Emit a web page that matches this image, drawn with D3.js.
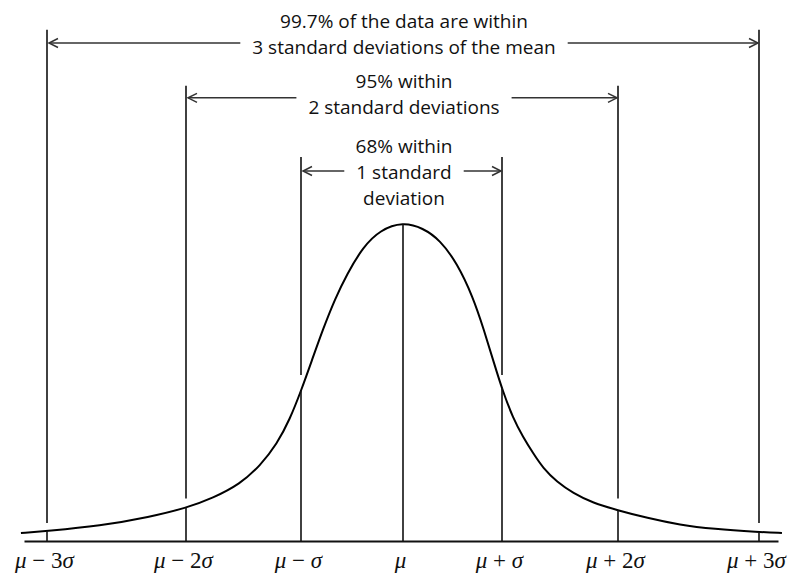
<!DOCTYPE html>
<html>
<head>
<meta charset="utf-8">
<script src="https://cdn.jsdelivr.net/npm/d3@7"></script>
<style>
  html, body { margin: 0; padding: 0; background: #fff; }
  svg { display: block; }
</style>
</head>
<body>
<svg id="chart" width="800" height="580"></svg>
<script>
// ---------- data ----------
// curve: x in sigma units, y = density
const curveX = [-3.187, -3.0, -2.619, -2.259, -2.0, -1.765, -1.530, -1.357, -1.209, -1.096, -1.0, -0.892, -0.784, -0.667, -0.549, -0.392, -0.225, 0,
                0.202, 0.374, 0.545, 0.707, 0.818, 0.919, 1.009, 1.095, 1.181, 1.267, 1.353, 1.474, 1.612, 1.784, 1.991, 2.206, 2.440, 2.674, 3.0, 3.163];
const curveY = [0.010, 0.0125, 0.01875, 0.030, 0.04125, 0.05375, 0.07125, 0.09375, 0.12125, 0.1525, 0.1875, 0.22625, 0.265, 0.3025, 0.33375, 0.3675, 0.38875, 0.39875,
                0.39125, 0.37625, 0.3475, 0.305, 0.26375, 0.2225, 0.18625, 0.1538, 0.13, 0.11, 0.09125, 0.07375, 0.06, 0.0475, 0.03875, 0.02875, 0.020, 0.015, 0.01125, 0.010];

const sigmaTicks = [-3, -2, -1, 0, 1, 2, 3];
const tickLabels = ["μ − 3σ", "μ − 2σ", "μ − σ", "μ", "μ + σ", "μ + 2σ", "μ + 3σ"];

// brackets (±k sigma)
const bracketSigma = [3, 2, 1];
const bracketLevel = [0.6225, 0.554, 0.4625];     // arrow height (density units)
const lineTopLevel = [0.639, 0.569, 0.48];        // top of the vertical guide lines
const lineGapLevel = [0.0225, 0.053, 0.2075];     // where the upper guide segment stops above the curve
const textTopLevel = [0.64125, 0.56625, 0.485];   // first text baseline
const bracketText = [
  ["99.7% of the data are within", "3 standard deviations of the mean"],
  ["95% within", "2 standard deviations"],
  ["68% within", "1 standard", "deviation"]
];
const arrowTextLine = [1, 1, 1]; // text line the arrow runs beside

// ---------- scales ----------
const x = d3.scaleLinear()
  .domain([-3.165, -3, -2, -1, 0, 1, 2, 3, 3.135])
  .range([24, 47, 186, 301, 403, 502, 618, 759, 778]);
const y = d3.scaleLinear().domain([0, 0.4]).range([541, 221]);

const svg = d3.select("#chart");
const textFont = "'Open Sans', Lato, sans-serif";
const lineHeight = 26;

const curve = curveX.map((v, i) => ({ x: v, y: curveY[i] }));

// ---------- axis ----------
const axis = d3.axisBottom(x).tickValues(sigmaTicks).tickSize(0).tickSizeOuter(0).tickFormat("");
const gAxis = svg.append("g").attr("transform", `translate(0,${y(0)})`).call(axis);
gAxis.select(".domain").attr("stroke", "#111").attr("stroke-width", 2);
gAxis.selectAll(".tick text").remove();
gAxis.selectAll(".tick").each(function (d, i) {
  const t = d3.select(this).append("text")
    .attr("x", -3)
    .attr("y", 27)
    .attr("text-anchor", "middle")
    .attr("fill", "#111")
    .style("font-family", "'Liberation Serif', 'DejaVu Serif', serif")
    .style("font-size", "23px");
  tickLabels[i].split(/([μσ])/).filter(s => s.length).forEach(part => {
    t.append("tspan")
      .style("font-style", /[μσ]/.test(part) ? "italic" : "normal")
      .text(part);
  });
});

// ---------- curve ----------
const linePath = d3.line().x(d => x(d.x)).y(d => y(d.y)).curve(d3.curveBasis);
const curvePath = svg.append("path")
  .datum(curve)
  .attr("fill", "none")
  .attr("stroke", "#000")
  .attr("stroke-width", 2)
  .attr("d", linePath);

// drawn curve height at a given x pixel (so the guide lines meet it exactly)
const pathNode = curvePath.node();
const totalLen = pathNode.getTotalLength();
function curvePixelY(px) {
  let lo = 0, hi = totalLen;
  for (let n = 0; n < 40; n++) {
    const mid = (lo + hi) / 2;
    if (pathNode.getPointAtLength(mid).x < px) lo = mid; else hi = mid;
  }
  return pathNode.getPointAtLength((lo + hi) / 2).y;
}

// ---------- vertical guide lines ----------
const gLines = svg.append("g").attr("stroke", "#111").attr("stroke-width", 1.6);
gLines.selectAll("line.lower").data(sigmaTicks).join("line")
  .attr("class", "lower")
  .attr("x1", d => x(d)).attr("x2", d => x(d))
  .attr("y1", d => curvePixelY(x(d))).attr("y2", y(0));
const upper = [];
bracketSigma.forEach((k, i) => {
  [-k, k].forEach(s => upper.push({ s, top: lineTopLevel[i], bottom: lineGapLevel[i] }));
});
gLines.selectAll("line.upper").data(upper).join("line")
  .attr("class", "upper")
  .attr("x1", d => x(d.s)).attr("x2", d => x(d.s))
  .attr("y1", d => y(d.top)).attr("y2", d => y(d.bottom));

// ---------- bracket texts and arrows ----------
bracketSigma.forEach((k, i) => {
  const g = svg.append("g");
  const cx = x(0) + 1;
  const texts = bracketText[i].map((line, j) =>
    g.append("text")
      .attr("x", cx)
      .attr("y", y(textTopLevel[i]) + j * lineHeight)
      .attr("text-anchor", "middle")
      .attr("fill", "#111")
      .style("font-family", textFont)
      .style("font-size", "19px")
      .text(line)
  );
  const w = texts[arrowTextLine[i]].node().getComputedTextLength();
  const pad = 12;
  const ay = y(bracketLevel[i]);
  const xl = x(-k) + 2, xr = x(k) - 1;
  const innerL = cx - w / 2 - pad, innerR = cx + w / 2 + pad;
  const ag = g.append("g").attr("stroke", "#333").attr("stroke-width", 1.5).attr("fill", "none");
  ag.append("line").attr("x1", xl).attr("x2", innerL).attr("y1", ay).attr("y2", ay);
  ag.append("line").attr("x1", innerR).attr("x2", xr).attr("y1", ay).attr("y2", ay);
  ag.append("path").attr("d", `M${xl + 9},${ay - 4.5}L${xl},${ay}L${xl + 9},${ay + 4.5}`);
  ag.append("path").attr("d", `M${xr - 9},${ay - 4.5}L${xr},${ay}L${xr - 9},${ay + 4.5}`);
});
</script>
</body>
</html>
